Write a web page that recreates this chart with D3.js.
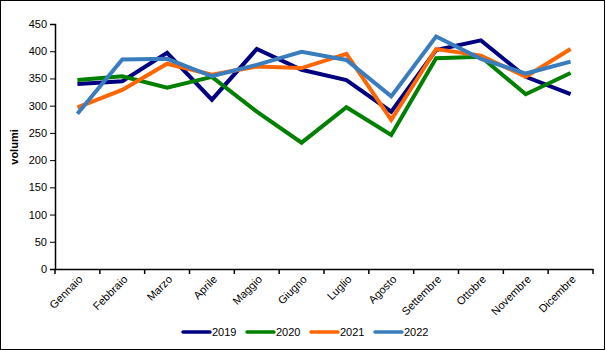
<!DOCTYPE html>
<html><head><meta charset="utf-8">
<script src="https://cdn.jsdelivr.net/npm/d3@7"></script>
<style>body{margin:0;background:#fff}svg{display:block}text{font-family:Arial,"Liberation Sans",sans-serif}</style>
</head><body>
<script>
const months = ["Gennaio","Febbraio","Marzo","Aprile","Maggio","Giugno","Luglio","Agosto","Settembre","Ottobre","Novembre","Dicembre"];
const years = ["2019","2020","2021","2022"];
const colors = ["#000080","#008000","#FF6600","#3A7DBE"];
const v2019 = [340,345,397,311,404,366,347,289,402,420,353,321];
const v2020 = [347,354,333,353,289,232,297,246,387,390,321,360];
const v2021 = [297,329,377,357,372,369,395,274,404,392,353,404];
const v2022 = [285,385,386,354,375,399,384,317,427,386,359,381];
const yTicks = [0,50,100,150,200,250,300,350,400,450];
const series = [v2019,v2020,v2021,v2022];

const W=606,H=351;
const svg=d3.select("body").append("svg").attr("width",W).attr("height",H);
svg.append("rect").attr("x",0.5).attr("y",0.5).attr("width",W-2).attr("height",H-2).attr("fill","#fff").attr("stroke","#000");

const x=d3.scaleBand().domain(months).range([55,593]);
const y=d3.scaleLinear().domain([0,450]).range([269,24]);

const ya=svg.append("g").attr("transform","translate(55,0)")
  .call(d3.axisLeft(y).tickValues(yTicks).tickSize(5).tickPadding(3));
ya.select(".domain").attr("stroke","#000").attr("stroke-width",1.5);
ya.selectAll("text").attr("font-size",11).attr("fill","#000");

const xa=svg.append("g").attr("transform","translate(0,269)")
  .call(d3.axisBottom(x).tickSize(0).tickFormat(""));
xa.select(".domain").attr("stroke","#000").attr("stroke-width",1.5);
const edges=months.map(m=>x(m)).concat([x.range()[1]]);
svg.append("g").selectAll("line").data(edges).join("line")
  .attr("x1",d=>d).attr("x2",d=>d).attr("y1",269).attr("y2",274).attr("stroke","#000").attr("stroke-width",1.5);
svg.append("g").selectAll("text").data(months).join("text")
  .attr("transform",d=>`translate(${x(d)+x.bandwidth()/2+6},280) rotate(-45)`)
  .attr("text-anchor","end").attr("font-size",11).attr("fill","#000").text(d=>d);

svg.append("text").attr("transform","translate(18,147) rotate(-90)")
  .attr("text-anchor","middle").attr("font-size",11).attr("font-weight","bold").text("volumi");

const line=d3.line().x((d,i)=>x(months[i])+x.bandwidth()/2).y(d=>y(d));
series.forEach((s,k)=>{
  svg.append("path").datum(s).attr("d",line).attr("fill","none")
    .attr("stroke",colors[k]).attr("stroke-width",4).attr("stroke-linejoin","miter");
});

const lg=svg.append("g").selectAll("g").data(years).join("g")
  .attr("transform",(d,i)=>`translate(${183+i*64},332)`);
lg.append("line").attr("x1",0).attr("x2",27).attr("y1",0).attr("y2",0)
  .attr("stroke",(d,i)=>colors[i]).attr("stroke-width",3.5).attr("stroke-linecap","round");
lg.append("text").attr("x",29).attr("y",4).attr("font-size",11).text(d=>d);
</script>
</body></html>
